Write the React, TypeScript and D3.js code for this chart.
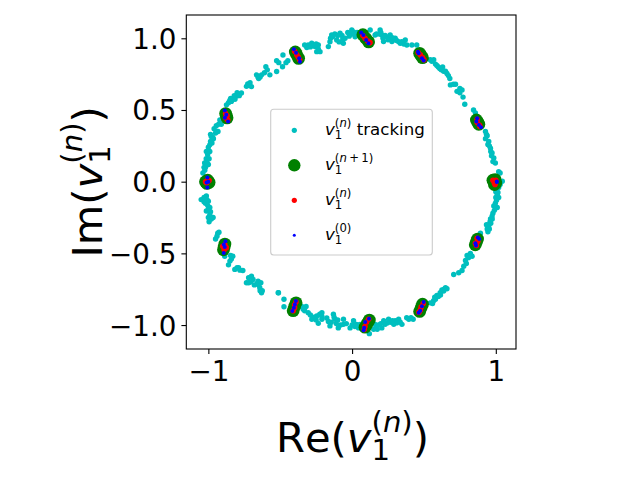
import { useEffect, useRef } from "react"
import * as d3 from "d3"

type Pt = [number, number]

const xTicks = [-1, 0, 1]
const yTicks = [-1, -0.5, 0, 0.5, 1]

const trackingPoints: Pt[] = [
  [-0.97, 0.31], [-0.95, 0.34], [-0.96, 0.37], [-0.93, 0.4], [-0.94, 0.35], [-0.92, 0.43], [-0.985, 0.33], [-0.945, 0.39], [-0.91, 0.4],
  [-0.874, 0.536], [-0.851, 0.566], [-0.86, 0.55], [-0.83, 0.578], [-0.84, 0.56], [-0.803, 0.598], [-0.77, 0.619], [-0.8, 0.62], [-0.82, 0.6], [-0.845, 0.58], [-0.815, 0.575], [-0.785, 0.6],
  [-0.726, 0.682], [-0.7, 0.663], [-0.715, 0.67], [-0.735, 0.665], [-0.71, 0.69], [-0.665, 0.745], [-0.65, 0.72], [-0.63, 0.745], [-0.64, 0.73], [-0.655, 0.73], [-0.6, 0.802], [-0.61, 0.76], [-0.59, 0.78],
  [-0.572, 0.745], [-0.525, 0.768], [-0.525, 0.844], [-0.51, 0.83], [-0.484, 0.802], [-0.447, 0.844], [-0.481, 0.884], [-0.46, 0.83],
  [-0.33, 0.953], [-0.305, 0.953], [-0.281, 0.965], [-0.258, 0.942], [-0.235, 0.953], [-0.29, 0.94], [-0.246, 0.907], [-0.223, 0.907], [-0.315, 0.935], [-0.27, 0.95], [-0.25, 0.96], [-0.235, 0.925],
  [-0.165, 0.942], [-0.154, 0.976], [-0.142, 1.023], [-0.15, 1.0], [-0.107, 0.988], [-0.12, 1.03], [-0.084, 1.035], [-0.061, 0.965], [-0.049, 1.0], [-0.135, 1.01], [-0.1, 1.02], [-0.09, 0.975], [-0.065, 0.995],
  [-0.07, 1.02], [-0.014, 1.035], [-0.002, 1.058], [0.021, 1.01], [0.002, 1.03], [0.032, 1.022], [0.045, 1.03], [-0.03, 1.04], [-0.02, 1.015], [0.01, 1.045], [0.035, 1.04],
  [0.126, 1.058], [0.16, 1.023], [0.17, 1.03], [0.195, 1.058], [0.207, 1.023], [0.219, 0.977], [0.19, 1.03], [0.242, 1.01], [0.265, 1.023], [0.277, 0.977], [0.2, 1.04], [0.215, 1.0], [0.23, 1.02], [0.255, 0.995],
  [0.25, 0.99], [0.3, 1.0], [0.29, 0.99], [0.323, 0.977], [0.346, 0.977], [0.37, 0.988], [0.36, 0.96], [0.381, 0.953], [0.416, 0.953], [0.45, 0.953], [0.31, 0.985], [0.335, 0.965], [0.28, 1.005],
  [0.544, 0.85], [0.568, 0.85], [0.555, 0.84], [0.58, 0.82], [0.6, 0.8], [0.59, 0.81], [0.63, 0.8], [0.637, 0.77], [0.62, 0.78], [0.66, 0.755], [0.68, 0.72], [0.61, 0.79], [0.65, 0.77], [0.67, 0.74],
  [0.684, 0.675], [0.72, 0.68], [0.705, 0.68], [0.73, 0.63], [0.765, 0.64], [0.75, 0.62], [0.772, 0.59], [0.784, 0.54], [0.845, 0.5], [0.858, 0.48], [0.75, 0.65],
  [0.928, 0.35], [0.928, 0.3], [0.94, 0.32], [0.951, 0.28], [0.945, 0.26], [0.963, 0.234], [0.974, 0.2], [0.965, 0.21], [0.986, 0.165], [0.997, 0.13], [0.98, 0.14], [0.935, 0.33], [0.955, 0.25], [0.97, 0.18],
  [1.02, 0.07], [1.03, 0.06], [1.045, 0.003], [1.03, -0.02], [1.02, -0.04], [1.01, -0.09], [1.0, -0.07], [1.02, -0.11], [0.997, -0.15], [1.005, -0.13], [0.986, -0.17], [1.01, -0.18], [0.99, -0.2], [1.01, -0.05], [1.015, -0.075], [1.0, -0.11],
  [0.974, -0.24], [0.963, -0.26], [0.98, -0.22], [0.951, -0.3], [0.96, -0.28], [0.94, -0.33], [0.95, -0.31], [0.945, -0.35], [0.893, -0.36], [0.965, -0.29], [0.935, -0.3], [0.975, -0.26], [0.955, -0.33],
  [0.8, -0.515], [0.835, -0.52], [0.823, -0.5], [0.789, -0.55], [0.777, -0.59], [0.795, -0.57], [0.765, -0.62], [0.707, -0.647], [0.742, -0.635], [0.81, -0.53],
  [0.66, -0.747], [0.65, -0.74], [0.637, -0.763], [0.625, -0.755], [0.613, -0.775], [0.59, -0.793], [0.6, -0.8], [0.567, -0.83], [0.58, -0.82], [0.544, -0.845], [0.56, -0.85], [0.64, -0.75], [0.615, -0.79], [0.575, -0.805],
  [0.41, -0.949], [0.38, -0.949], [0.395, -0.96], [0.347, -0.995], [0.324, -0.96], [0.335, -0.98], [0.29, -0.995], [0.3, -0.97], [0.254, -0.96], [0.27, -0.98], [0.23, -0.995], [0.31, -0.985], [0.28, -0.97], [0.245, -0.985], [0.425, -0.96],
  [0.207, -1.02], [0.22, -0.97], [0.16, -0.995], [0.185, -1.0], [0.15, -1.03], [0.175, -1.03], [0.12, -1.06], [0.03, -0.995], [0.045, -1.02], [0.01, -0.97], [-0.014, -1.02], [0.0, -1.0], [0.2, -0.99], [0.165, -1.02], [0.02, -1.01], [0.055, -0.995],
  [-0.06, -0.96], [-0.06, -0.995], [-0.04, -0.99], [-0.096, -1.02], [-0.11, -0.99], [-0.119, -0.96], [-0.13, -0.925], [-0.125, -0.945], [-0.154, -1.006], [-0.176, -0.95], [-0.08, -1.0], [-0.1, -0.965], [-0.145, -0.98], [-0.165, -0.975],
  [-0.21, -0.914], [-0.21, -0.96], [-0.21, -0.94], [-0.246, -0.937], [-0.235, -0.988], [-0.28, -0.96], [-0.265, -0.945], [-0.305, -0.914], [-0.29, -0.93], [-0.34, -0.89], [-0.32, -0.87], [-0.33, -0.9], [-0.364, -0.856], [-0.25, -0.965], [-0.225, -0.925], [-0.35, -0.87],
  [-0.474, -0.872], [-0.474, -0.82], [-0.512, -0.775], [-0.63, -0.775], [-0.642, -0.74], [-0.625, -0.76], [-0.654, -0.694], [-0.65, -0.72], [-0.689, -0.682], [-0.72, -0.67], [-0.735, -0.705], [-0.705, -0.7], [-0.64, -0.76], [-0.66, -0.71], [-0.635, -0.705],
  [-0.78, -0.617], [-0.816, -0.612], [-0.8, -0.6], [-0.85, -0.554], [-0.83, -0.52], [-0.84, -0.54], [-0.886, -0.52], [-0.76, -0.62], [-0.72, -0.705], [-0.7, -0.66], [-0.68, -0.72], [-0.514, -0.775], [-0.79, -0.6], [-0.86, -0.58], [-0.845, -0.515],
  [-0.933, 0.35], [-0.98, 0.315], [-0.965, 0.3], [-0.99, 0.257], [-0.975, 0.27], [-1.014, 0.21], [-0.99, 0.21], [-1.0, 0.24], [-1.026, 0.13], [-1.0, 0.12], [-1.015, 0.16], [-1.02, 0.1], [-1.038, 0.06], [-1.025, 0.08], [-0.985, 0.28], [-1.005, 0.19], [-0.995, 0.16], [-1.01, 0.135], [-1.03, 0.1],
  [-1.05, -0.125], [-1.014, -0.1], [-1.03, -0.11], [-1.0, -0.136], [-1.02, -0.15], [-0.99, -0.18], [-1.005, -0.165], [-1.014, -0.205], [-1.0, -0.25], [-0.99, -0.23], [-0.967, -0.25], [-0.995, -0.28], [-0.98, -0.26], [-1.03, -0.14], [-1.01, -0.125], [-0.985, -0.21], [-1.0, -0.19],
  [-0.926, -0.353], [-0.95, -0.4], [-0.94, -0.38], [-0.935, -0.36],
]

// v1^(n+1)
const greenPoints: Pt[] = [
  [-0.395, 0.905], [-0.385, 0.885], [-0.372, 0.86],
  [0.075, 1.025], [0.095, 1.0], [0.115, 0.975],
  [0.47, 0.895], [0.48, 0.88], [0.49, 0.865],
  [0.865, 0.43], [0.875, 0.415], [0.882, 0.4],
  [0.98, 0.01], [0.995, 0.015], [1.0, -0.01], [0.99, -0.02],
  [0.873, -0.4], [0.865, -0.42], [0.857, -0.44],
  [0.49, -0.855], [0.48, -0.88], [0.47, -0.905],
  [0.12, -0.965], [0.105, -0.99], [0.09, -1.015],
  [-0.39, -0.845], [-0.4, -0.87], [-0.41, -0.9],
  [-0.885, -0.435], [-0.89, -0.455], [-0.895, -0.475],
  [-1.02, 0.0], [-1.005, 0.01], [-0.995, -0.005], [-1.01, -0.012],
  [-0.87, 0.445], [-0.875, 0.46], [-0.88, 0.475],
]

// v1^(n)
const redPoints: Pt[] = [
  [-0.4, 0.91], [-0.385, 0.885], [-0.375, 0.87], [-0.365, 0.85],
  [0.075, 1.02], [0.09, 1.0], [0.11, 0.98], [0.125, 0.97],
  [0.46, 0.9], [0.475, 0.885], [0.49, 0.865], [0.5, 0.85],
  [0.87, 0.435], [0.87, 0.415], [0.885, 0.395], [0.89, 0.385],
  [0.98, 0.01], [0.99, -0.01], [1.0, 0.01], [0.995, -0.02],
  [0.87, -0.395], [0.875, -0.415], [0.858, -0.43], [0.865, -0.445],
  [0.495, -0.85], [0.48, -0.875], [0.475, -0.895], [0.465, -0.91],
  [0.115, -0.96], [0.1, -0.98], [0.09, -1.01], [0.085, -1.03],
  [-0.39, -0.84], [-0.4, -0.86], [-0.4, -0.88], [-0.41, -0.9],
  [-0.9, -0.45], [-0.885, -0.44], [-0.875, -0.46], [-0.89, -0.475],
  [-1.02, 0.0], [-1.005, 0.012], [-0.995, 0.008], [-1.012, -0.008],
  [-0.88, 0.475], [-0.87, 0.46], [-0.88, 0.445], [-0.865, 0.43],
]

// v1^(0)
const bluePoints: Pt[] = [
  [-0.405, 0.923], [-0.39, 0.9], [-0.368, 0.86], [-0.363, 0.837],
  [0.063, 1.04], [0.079, 1.023], [0.098, 0.988], [0.114, 0.965],
  [0.458, 0.907], [0.463, 0.895], [0.486, 0.861], [0.498, 0.845],
  [0.87, 0.443], [0.865, 0.42], [0.882, 0.396], [0.897, 0.38],
  [1.007, -0.002], [1.007, 0.002],
  [0.875, -0.39], [0.885, -0.4], [0.858, -0.43], [0.862, -0.445],
  [0.498, -0.84], [0.486, -0.868], [0.474, -0.9], [0.463, -0.915],
  [0.118, -0.956], [0.091, -0.979], [0.084, -1.018], [0.08, -1.037],
  [-0.391, -0.833], [-0.398, -0.856], [-0.405, -0.879], [-0.416, -0.902],
  [-0.881, -0.415], [-0.893, -0.438], [-0.886, -0.455], [-0.893, -0.497],
  [-1.007, 0.03], [-1.0, 0.0], [-1.012, -0.005], [-1.007, -0.04],
  [-0.886, 0.497], [-0.875, 0.466], [-0.885, 0.445], [-0.863, 0.42],
]

const legendRows = [
  { sup: "n", tail: " tracking", color: "#00bfbf", r: 2.6 },
  { sup: "n+1", tail: "", color: "#008000", r: 6.2 },
  { sup: "n", tail: "", color: "#ff0000", r: 2.6 },
  { sup: "0", tail: "", color: "#0000ff", r: 1.5 },
]

const FONT = "'DejaVu Sans', sans-serif"

// draws v_1^(sup) with the sub and superscript stacked, returns the x where it ends
function drawV(g: d3.Selection<SVGGElement, unknown, null, undefined>, x: number, size: number, sup: string) {
  const small = size * 0.7
  g.append("text")
    .attr("x", x)
    .attr("font-size", size)
    .attr("font-style", "italic")
    .text("v")
  const sx = x + size * 0.592
  g.append("text")
    .attr("x", sx)
    .attr("y", size * 0.2)
    .attr("font-size", small)
    .text("1")
  const t = g.append("text").attr("x", sx).attr("y", -size * 0.48).attr("font-size", small)
  t.append("tspan").text("(")
  if (sup === "n+1") {
    t.append("tspan").attr("font-style", "italic").text("n")
    t.append("tspan").text("\u2009+\u20091)")
    return sx + small * 3.2
  }
  t.append("tspan").attr("font-style", sup === "n" ? "italic" : "normal").text(sup)
  t.append("tspan").text(")")
  return sx + small * 1.416
}

export default function App() {
  const svgRef = useRef<SVGSVGElement>(null)

  useEffect(() => {
    if (!svgRef.current) return
    const svg = d3.select(svgRef.current)
    svg.selectAll("*").remove()
    svg.attr("font-family", FONT).style("font-kerning", "none")

    const left = 186.3
    const right = 516
    const top = 15
    const bottom = 349

    const x = d3.scaleLinear().domain([-1.1535, 1.1405]).range([left, right])
    const y = d3.scaleLinear().domain([-1.167, 1.1625]).range([bottom, top])

    const dots = (pts: Pt[], r: number, fill: string) => {
      svg
        .append("g")
        .selectAll("circle")
        .data(pts)
        .enter()
        .append("circle")
        .attr("cx", (d) => x(d[0]))
        .attr("cy", (d) => y(d[1]))
        .attr("r", r)
        .attr("fill", fill)
    }

    dots(trackingPoints, 2.7, "#00bfbf")
    dots(greenPoints, 6.4, "#008000")
    dots(redPoints, 2.8, "#ff0000")
    dots(bluePoints, 2, "#0000ff")

    // frame
    svg
      .append("rect")
      .attr("x", left)
      .attr("y", top)
      .attr("width", right - left)
      .attr("height", bottom - top)
      .attr("fill", "none")
      .attr("stroke", "#000")
      .attr("stroke-width", 1.1)

    const fmt = (v: number, digits: number) => v.toFixed(digits).replace("-", "\u2212")

    // X axis
    const gx = svg
      .append("g")
      .attr("transform", `translate(0, ${bottom})`)
      .call(
        d3
          .axisBottom(x)
          .tickValues(xTicks)
          .tickSize(4.9)
          .tickPadding(4.9)
          .tickFormat((d) => fmt(+d, 0))
      )
    gx.select(".domain").remove()
    gx.selectAll(".tick line").attr("stroke", "#000").attr("stroke-width", 1.1)
    gx.selectAll("text").attr("font-family", FONT).attr("font-size", 27.78).attr("fill", "#000").attr("dy", null).attr("y", 31.7)

    // Y axis
    const gy = svg
      .append("g")
      .attr("transform", `translate(${left}, 0)`)
      .call(
        d3
          .axisLeft(y)
          .tickValues(yTicks)
          .tickSize(4.9)
          .tickPadding(4.9)
          .tickFormat((d) => fmt(+d, 1))
      )
    gy.select(".domain").remove()
    gy.selectAll(".tick line").attr("stroke", "#000").attr("stroke-width", 1.1)
    gy.selectAll("text").attr("font-family", FONT).attr("font-size", 27.78).attr("fill", "#000").attr("dy", 10)

    // Axis labels
    const size = 41.67
    const xl = svg.append("g").attr("transform", "translate(276, 451.7)")
    xl.append("text").attr("font-size", size).text("Re(")
    const xEnd = drawV(xl, size * 1.7, size, "n")
    xl.append("text").attr("x", xEnd).attr("font-size", size).text(")")

    const yl = svg.append("g").attr("transform", "translate(101.7, 257.5) rotate(-90)")
    yl.append("text").attr("font-size", size).text("Im(")
    const yEnd = drawV(yl, size * 1.659, size, "n")
    yl.append("text").attr("x", yEnd).attr("font-size", size).text(")")

    // Legend
    svg
      .append("rect")
      .attr("x", 270.7)
      .attr("y", 109.3)
      .attr("width", 161.6)
      .attr("height", 145.7)
      .attr("rx", 3)
      .attr("fill", "#fff")
      .attr("fill-opacity", 0.8)
      .attr("stroke", "#cccccc")
      .attr("stroke-width", 1.1)

    legendRows.forEach((row, i) => {
      const rowY = 130.3 + i * 35
      svg.append("circle").attr("cx", 294.3).attr("cy", rowY).attr("r", row.r).attr("fill", row.color)
      const g = svg.append("g").attr("transform", `translate(325, ${rowY + 5})`)
      const end = drawV(g, 0, 16.67, row.sup)
      if (row.tail) {
        g.append("text").attr("x", end).attr("font-size", 16.67).style("white-space", "pre").text(row.tail)
      }
    })
  }, [])

  return <svg ref={svgRef} width={640} height={480} style={{ position: "absolute", left: 0, top: 0 }} />
}
